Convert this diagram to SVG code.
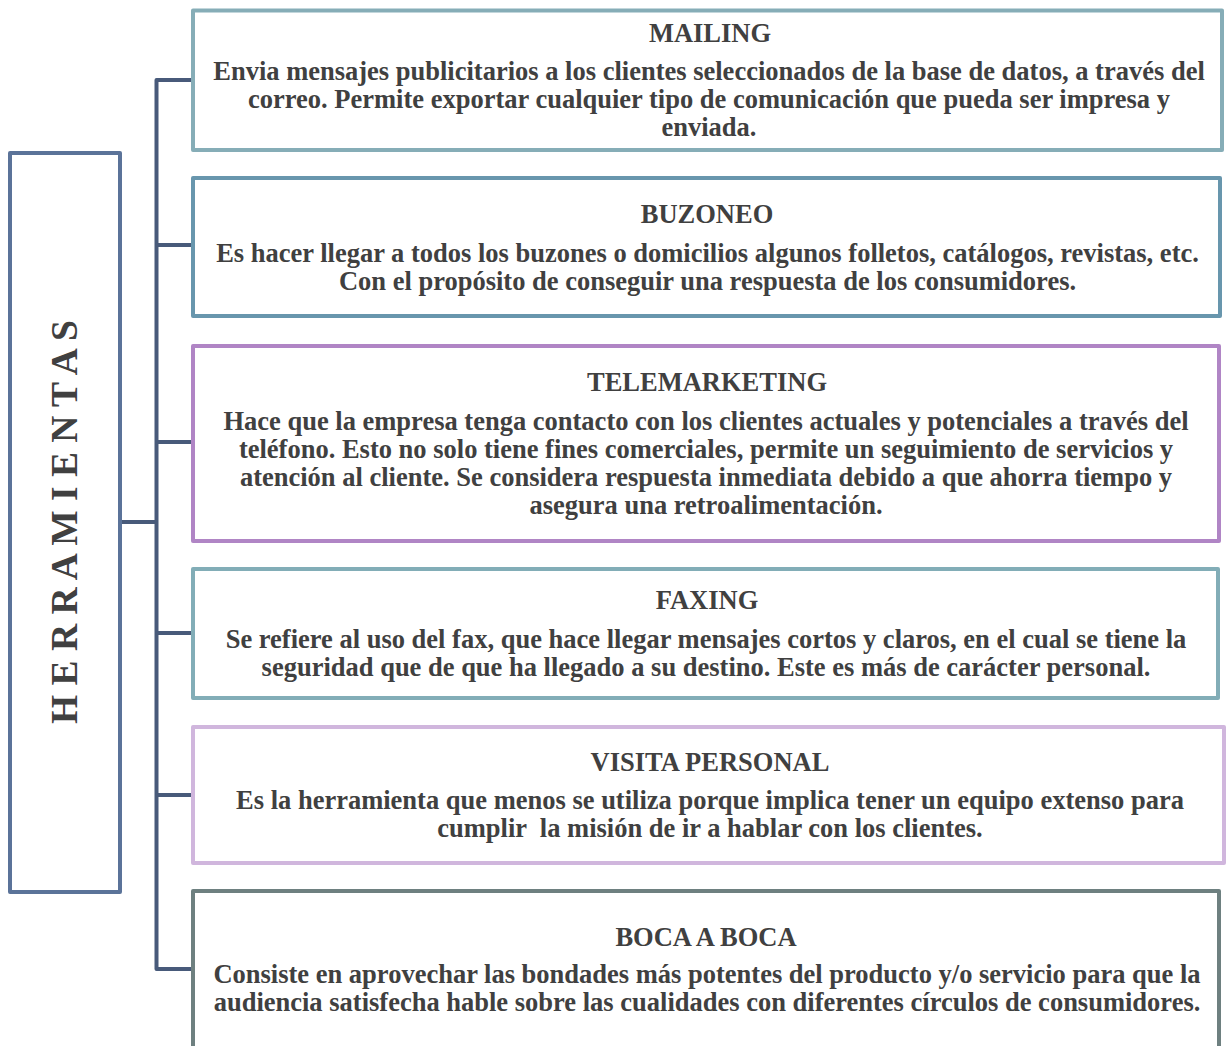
<svg xmlns="http://www.w3.org/2000/svg" width="1226" height="1046" viewBox="0 0 1226 1046">
<style>
.box{fill:#ffffff;stroke-width:4;stroke-linejoin:round}
.t{font-family:"Liberation Serif","Times New Roman",serif;font-weight:bold;font-size:26.5px;fill:#404040;text-anchor:middle}
.v{font-family:"Liberation Serif","Times New Roman",serif;font-weight:bold;font-size:37.5px;fill:#404040;text-anchor:middle}
.conn{fill:none;stroke:#485a7a;stroke-width:4;stroke-linejoin:round}
</style>
<rect width="1226" height="1046" fill="#ffffff"/>
<g id="connectors">
<path class="conn" d="M192,80 H156.5 V969 H192"/>
<path class="conn" d="M156.5,245 H192 M156.5,442 H192 M156.5,633 H192 M156.5,795 H192 M120,522 H156.5"/>
</g>
<g id="herramientas">
<rect class="box" x="10" y="153" width="110" height="739" stroke="#5b7399"/>
<text class="v" transform="translate(77,522) rotate(-90)">H E R R A M I E N T A S</text>
</g>
<g id="mailing">
<rect class="box" x="193" y="10.5" width="1029" height="139.5" stroke="#86adb7"/>
<text class="t" x="710" y="42">MAILING</text>
<text class="t" x="709" y="80">Envia mensajes publicitarios a los clientes seleccionados de la base de datos, a través del</text>
<text class="t" x="709" y="107.8">correo. Permite exportar cualquier tipo de comunicación que pueda ser impresa y</text>
<text class="t" x="709" y="135.6">enviada.</text>
</g>
<g id="buzoneo">
<rect class="box" x="193" y="178" width="1027" height="138" stroke="#6896ad"/>
<text class="t" x="707" y="223">BUZONEO</text>
<text class="t" x="707.5" y="261.5">Es hacer llegar a todos los buzones o domicilios algunos folletos, catálogos, revistas, etc.</text>
<text class="t" x="707.5" y="289.5">Con el propósito de conseguir una respuesta de los consumidores.</text>
</g>
<g id="telemarketing">
<rect class="box" x="193" y="346" width="1026" height="195" stroke="#b085c5"/>
<text class="t" x="707" y="391">TELEMARKETING</text>
<text class="t" x="706" y="429.5">Hace que la empresa tenga contacto con los clientes actuales y potenciales a través del</text>
<text class="t" x="706" y="457.5">teléfono. Esto no solo tiene fines comerciales, permite un seguimiento de servicios y</text>
<text class="t" x="706" y="485.5">atención al cliente. Se considera respuesta inmediata debido a que ahorra tiempo y</text>
<text class="t" x="706" y="513.5">asegura una retroalimentación.</text>
</g>
<g id="faxing">
<rect class="box" x="193" y="569" width="1025" height="129" stroke="#82adb7"/>
<text class="t" x="707" y="609">FAXING</text>
<text class="t" x="706" y="647.5">Se refiere al uso del fax, que hace llegar mensajes cortos y claros, en el cual se tiene la</text>
<text class="t" x="706" y="675.5">seguridad que de que ha llegado a su destino. Este es más de carácter personal.</text>
</g>
<g id="visita-personal">
<rect class="box" x="193" y="727" width="1031" height="136" stroke="#d0b6dd"/>
<text class="t" x="710" y="771">VISITA PERSONAL</text>
<text class="t" x="710" y="809">Es la herramienta que menos se utiliza porque implica tener un equipo extenso para</text>
<text class="t" x="710" y="836.8" xml:space="preserve">cumplir  la misión de ir a hablar con los clientes.</text>
</g>
<g id="boca-a-boca">
<rect class="box" x="193" y="891" width="1026" height="170" stroke="#6e8080"/>
<text class="t" x="706" y="946">BOCA A BOCA</text>
<text class="t" x="707" y="983">Consiste en aprovechar las bondades más potentes del producto y/o servicio para que la</text>
<text class="t" x="707" y="1010.8">audiencia satisfecha hable sobre las cualidades con diferentes círculos de consumidores.</text>
</g>
</svg>
